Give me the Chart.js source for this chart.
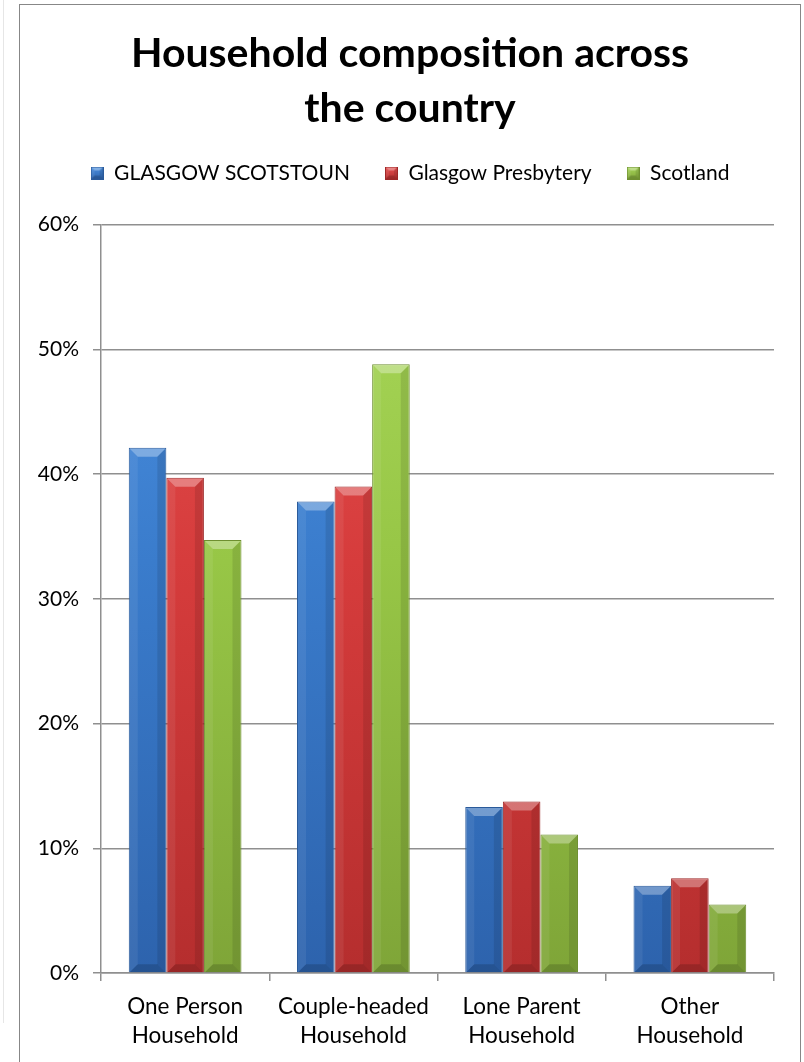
<!DOCTYPE html>
<html>
<head>
<meta charset="utf-8">
<script src="https://cdn.jsdelivr.net/npm/chart.js@4.4.1/dist/chart.umd.min.js"></script>
<style>
  html, body { margin:0; padding:0; background:#fff; }
  body { width:804px; height:1062px; position:relative; overflow:hidden; }
  #edge { position:absolute; left:3px; top:0; width:1px; height:1023px; background:#e6e6e6; }
  #frame { position:absolute; left:19px; top:4px; width:782px; height:1100px; border:1px solid #878787; box-sizing:border-box; }
  #wrap { position:absolute; left:0; top:0; width:804px; height:1062px; }
</style>
</head>
<body>
<div id="edge"></div>
<div id="frame"></div>
<div id="wrap"><canvas id="chart"></canvas></div>
<script>
const categories = [['One Person', 'Household'], ['Couple-headed', 'Household'], ['Lone Parent', 'Household'], ['Other', 'Household']];
const seriesNames = ['GLASGOW SCOTSTOUN', 'Glasgow Presbytery', 'Scotland'];
const scotstoun  = [42.1, 37.8, 13.3, 7.0];
const presbytery = [39.7, 39.0, 13.75, 7.6];
const scotland   = [34.7, 48.8, 11.1, 5.5];
const yMin = 0, yMax = 60, yStep = 10;

// light, mid, dark, border for each series
const palette = [
  ['#4d92e2', '#3a7ccc', '#2d63ad', '#2a5a9a'],
  ['#e65252', '#d63c3c', '#b52e2e', '#9c2727'],
  ['#a9d85a', '#97c646', '#7fa538', '#6e8f30']
];
const FONT = 'Lato, "Open Sans", sans-serif';
const LEGEND_HEIGHT = 97;   // legend block incl. space down to the plot
const HEAD_SHIFT = 13;      // title + legend sit centred on the frame, not the plot

function fillFor(i){
  return ctx => {
    const area = ctx.chart.chartArea;
    if(!area) return palette[i][1];
    const g = ctx.chart.ctx.createLinearGradient(0, area.top, 0, area.bottom);
    g.addColorStop(0, palette[i][0]);
    g.addColorStop(0.45, palette[i][1]);
    g.addColorStop(1, palette[i][2]);
    return g;
  };
}

// draws the Office style bevel over a bar rectangle
function bevel(c, l, t, r, b, d){
  d = Math.max(0, Math.min(d, (b - t) / 2, (r - l) / 2));
  const poly = (pts, col) => {
    c.beginPath(); c.moveTo(pts[0][0], pts[0][1]);
    for(const p of pts.slice(1)) c.lineTo(p[0], p[1]);
    c.closePath(); c.fillStyle = col; c.fill();
  };
  poly([[l,t],[r,t],[r-d,t+d],[l+d,t+d]], 'rgba(255,255,255,0.32)');
  poly([[l,t],[l+d,t+d],[l+d,b-d],[l,b]], 'rgba(255,255,255,0.07)');
  poly([[r,t],[r-d,t+d],[r-d,b-d],[r,b]], 'rgba(0,0,0,0.10)');
  poly([[l,b],[l+d,b-d],[r-d,b-d],[r,b]], 'rgba(0,0,0,0.16)');
}

function legendBox(i){
  const cv = document.createElement('canvas');
  cv.width = 13; cv.height = 13;
  const c = cv.getContext('2d');
  const g = c.createLinearGradient(0, 0, 0, 13);
  g.addColorStop(0, palette[i][0]); g.addColorStop(1, palette[i][2]);
  c.fillStyle = g; c.fillRect(0, 0, 13, 13);
  bevel(c, 0, 0, 13, 13, 4);
  c.strokeStyle = palette[i][3]; c.lineWidth = 1; c.strokeRect(0.5, 0.5, 12, 12);
  return cv;
}

const bevelPlugin = {
  id: 'bevel',
  afterDatasetsDraw(chart){
    const c = chart.ctx;
    c.save();
    chart.data.datasets.forEach((ds, i) => {
      chart.getDatasetMeta(i).data.forEach(bar => {
        const p = bar.getProps(['x', 'y', 'base', 'width'], true);
        const l = p.x - p.width / 2, r = p.x + p.width / 2;
        bevel(c, l + 1, p.y + 1, r - 1, p.base, 8);
      });
    });
    c.restore();
  }
};

// legend gap below items and horizontal placement of the heading blocks
const headPlugin = {
  id: 'head',
  afterInit(chart){
    const lg = chart.legend;
    if(!lg) return;
    const fit = lg.fit.bind(lg);
    lg.fit = function(){ fit(); this.height = LEGEND_HEIGHT; };
  },
  afterLayout(chart){
    for(const box of [chart.legend, chart.titleBlock]){
      if(!box) continue;
      box.left += HEAD_SHIFT; box.right += HEAD_SHIFT;
    }
  }
};

const values = [scotstoun, presbytery, scotland];
const datasets = seriesNames.map((name, i) => ({
  label: name,
  data: values[i],
  backgroundColor: fillFor(i),
  borderColor: palette[i][3],
  borderWidth: 1,
  borderSkipped: 'bottom',
  pointStyle: legendBox(i),
  categoryPercentage: 0.67,
  barPercentage: 1.0
}));

const gridGray = '#8f8f8f';

new Chart(document.getElementById('chart'), {
  type: 'bar',
  data: { labels: categories, datasets },
  plugins: [bevelPlugin, headPlugin],
  options: {
    responsive: true,
    maintainAspectRatio: false,
    animation: false,
    layout: { padding: { left: 20, right: 30, top: 5, bottom: 1 } },
    plugins: {
      title: {
        display: true,
        text: ['Household composition across', 'the country'],
        color: '#000',
        font: { family: FONT, size: 41, weight: 'bold', lineHeight: '55px' },
        padding: { top: 21, bottom: -8.5 }
      },
      legend: {
        position: 'top',
        labels: {
          usePointStyle: true,
          boxWidth: 13, boxHeight: 13,
          padding: 35,
          color: '#000',
          font: { family: FONT, size: 21 }
        }
      },
      tooltip: { enabled: false }
    },
    scales: {
      x: {
        grid: { display: true, drawOnChartArea: false, drawTicks: true, tickLength: 8, color: gridGray, lineWidth: 1.5, offset: true },
        border: { display: true, color: gridGray, width: 1.5 },
        ticks: { color: '#000', font: { family: FONT, size: 22.5, lineHeight: '29px' }, padding: 11, maxRotation: 0, autoSkip: false }
      },
      y: {
        min: yMin, max: yMax,
        grid: { color: gridGray, lineWidth: 1.5, tickLength: 8 },
        border: { display: true, color: gridGray, width: 1.5 },
        ticks: { stepSize: yStep, color: '#000', font: { family: FONT, size: 21 }, padding: 14, callback: v => v + '%' },
        afterFit: scale => { scale.width = 81; }
      }
    }
  }
});
</script>
</body>
</html>
